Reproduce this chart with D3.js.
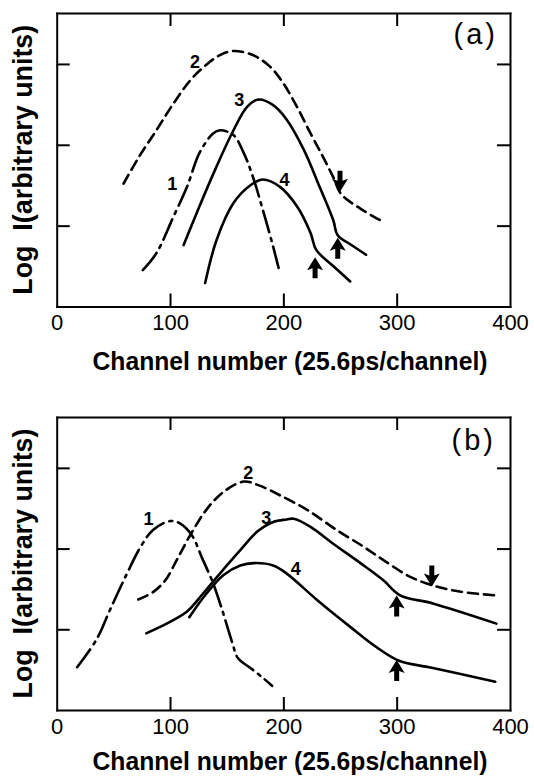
<!DOCTYPE html>
<html>
<head>
<meta charset="utf-8">
<script src="https://cdn.jsdelivr.net/npm/d3@7"></script>
<style>
  body { margin: 0; background: #fff; }
  text { font-family: "Liberation Sans", Arial, sans-serif; fill: #000; }
</style>
</head>
<body>
<svg id="chart" width="534" height="778"></svg>
<script>
// channel number, log intensity (tick units)
var xTicks = [0, 100, 200, 300, 400];
var yTicks = [1, 2, 3];

// panel (a)
var a1 = [[76, 0.45], [88, 0.66], [103, 1.11], [115, 1.48], [126, 1.9], [138, 2.14], [144, 2.18],
          [156, 2.12], [165, 1.9], [173, 1.61], [182, 1.19], [191, 0.74], [197, 0.41]];
var a2 = [[59, 1.52], [73, 1.86], [88, 2.18], [103, 2.51], [118, 2.8], [132, 2.99], [144, 3.11],
          [156, 3.16], [173, 3.11], [188, 2.97], [200, 2.76], [212, 2.47], [224, 2.14], [235, 1.85],
          [244, 1.6], [251, 1.39], [268, 1.21], [285, 1.07]];
var a3 = [[112, 0.76], [126, 1.24], [141, 1.73], [156, 2.18], [168, 2.47], [178, 2.56], [191, 2.49],
          [203, 2.31], [218, 1.94], [232, 1.48], [244, 1.07], [248, 0.88], [260, 0.76], [273, 0.64]];
var a4 = [[131, 0.29], [141, 0.82], [156, 1.28], [171, 1.5], [182, 1.57], [197, 1.48], [212, 1.24],
          [224, 0.91], [229, 0.7], [244, 0.5], [259, 0.31]];
var arrowsA = [[250, 1.42, "down"], [248, 0.85, "up"], [228, 0.61, "up"]];
var labelsA = [["1", 102, 1.51], ["2", 122, 3.03], ["3", 161, 2.55], ["4", 201, 1.57]];

// panel (b)
var b1 = [[18, 0.53], [35, 0.87], [47, 1.24], [62, 1.69], [74, 2.02], [85, 2.23], [100, 2.34],
          [109, 2.31], [119, 2.17], [129, 1.86], [138, 1.57], [146, 1.24], [155, 0.83], [160, 0.64],
          [171, 0.52], [181, 0.41], [190, 0.3]];
var b2 = [[72, 1.37], [85, 1.46], [96, 1.61], [106, 1.86], [118, 2.17], [132, 2.48], [147, 2.7],
          [165, 2.83], [179, 2.78], [197, 2.66], [221, 2.48], [247, 2.23], [270, 2.03], [288, 1.86],
          [312, 1.65], [335, 1.53], [359, 1.46], [388, 1.42]];
var b3 = [[79, 0.95], [97, 1.07], [115, 1.22], [129, 1.44], [144, 1.69], [162, 1.98], [177, 2.21],
          [191, 2.33], [203, 2.36], [209, 2.37], [224, 2.27], [244, 2.06], [268, 1.82], [288, 1.61],
          [303, 1.42], [332, 1.32], [388, 1.07]];
var b4 = [[117, 1.15], [132, 1.44], [147, 1.67], [162, 1.79], [174, 1.82], [191, 1.79], [203, 1.69],
          [230, 1.36], [259, 1.03], [282, 0.78], [302, 0.61], [332, 0.52], [387, 0.35]];
var arrowsB = [[331, 1.53, "down"], [300, 1.42, "up"], [300, 0.62, "up"]];
var labelsB = [["1", 81, 2.37], ["2", 169, 2.94], ["3", 185, 2.38], ["4", 211, 1.75]];

var svg = d3.select("#chart");

var panels = [
  { top: 13, bottom: 306.5, tag: "(a)", tagY: 43.5, tagX: 498, labY: 370,
    curves: [a1, a2, a3, a4], arrows: arrowsA, labels: labelsA },
  { top: 417, bottom: 710, tag: "(b)", tagY: 450, tagX: 496, labY: 770,
    curves: [b1, b2, b3, b4], arrows: arrowsB, labels: labelsB }
];

var dashes = ["22,6,3,6", "10,6", null, null];

panels.forEach(function(p) {
  var x = d3.scaleLinear().domain([0, 400]).range([56.7, 510]);
  var y = d3.scaleLinear().domain([0, 3.63]).range([p.bottom, p.top]);
  var g = svg.append("g");

  var line = d3.line()
      .x(d => x(d[0]))
      .y(d => y(d[1]))
      .curve(d3.curveCatmullRom.alpha(0.5));

  g.selectAll(".curve")
    .data(p.curves)
    .enter()
    .append("path")
      .attr("d", line)
      .attr("fill", "none")
      .attr("stroke", "#000")
      .attr("stroke-width", 2.6)
      .attr("stroke-linecap", "round")
      .attr("stroke-dasharray", (d, i) => dashes[i]);

  // axes, ticks pointing inwards
  var bottomAxis = g.append("g")
      .attr("transform", "translate(0," + p.bottom + ")")
      .call(d3.axisBottom(x).tickValues(xTicks).tickSize(-13).tickPadding(8).tickSizeOuter(0));
  bottomAxis.selectAll(".tick")
      .filter(d => d === 0 || d === 400)
      .select("line").remove();
  bottomAxis.selectAll("text")
      .style("font-size", "22px");

  g.append("g")
      .attr("transform", "translate(0," + p.top + ")")
      .call(d3.axisTop(x).tickValues([100, 200, 300]).tickSize(-13).tickSizeOuter(0).tickFormat(""));
  g.append("g")
      .attr("transform", "translate(" + x(0) + ",0)")
      .call(d3.axisLeft(y).tickValues(yTicks).tickSize(-13).tickSizeOuter(0).tickFormat(""));
  g.append("g")
      .attr("transform", "translate(" + x(400) + ",0)")
      .call(d3.axisRight(y).tickValues(yTicks).tickSize(-13).tickSizeOuter(0).tickFormat(""));

  g.selectAll(".domain, .tick line")
      .attr("stroke", "#000")
      .attr("stroke-width", 2);
  g.selectAll(".domain").attr("stroke-linecap", "square");

  // arrows marking the positions on the curves
  var up = "M0,0 L8,13 L2.5,11 L2.5,21 L-2.5,21 L-2.5,11 L-8,13 Z";
  g.selectAll(".arrow")
    .data(p.arrows)
    .enter()
    .append("path")
      .attr("d", up)
      .attr("fill", "#000")
      .attr("transform", d => "translate(" + x(d[0]) + "," + y(d[1]) + ")" +
                              (d[2] === "down" ? " scale(1,-1)" : ""));

  g.selectAll(".clabel")
    .data(p.labels)
    .enter()
    .append("text")
      .attr("x", d => x(d[1]))
      .attr("y", d => y(d[2]) + 6)
      .attr("text-anchor", "middle")
      .style("font-size", "18px")
      .style("font-weight", "bold")
      .text(d => d[0]);

  g.append("text")
      .attr("x", p.tagX)
      .attr("y", p.tagY)
      .attr("text-anchor", "end")
      .style("font-size", "29px")
      .style("letter-spacing", "3px")
      .text(p.tag);

  g.append("text")
      .attr("x", 290)
      .attr("y", p.labY)
      .attr("text-anchor", "middle")
      .attr("textLength", 395)
      .attr("lengthAdjust", "spacingAndGlyphs")
      .style("font-size", "25px")
      .style("font-weight", "bold")
      .text("Channel number (25.6ps/channel)");

  g.append("text")
      .attr("transform", "translate(32," + ((p.top + p.bottom) / 2) + ") rotate(-90)")
      .attr("text-anchor", "middle")
      .attr("textLength", 270)
      .attr("lengthAdjust", "spacingAndGlyphs")
      .style("font-size", "27px")
      .style("font-weight", "bold")
      .style("white-space", "pre")
      .text("Log  I(arbitrary units)");
});
</script>
</body>
</html>
